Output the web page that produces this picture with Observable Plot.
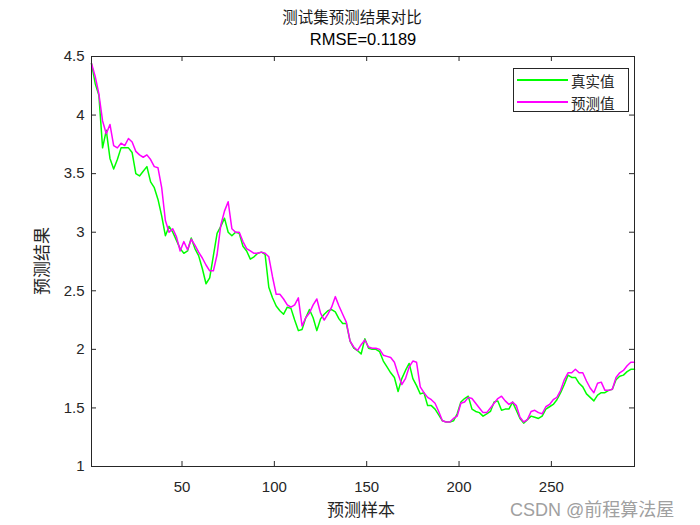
<!DOCTYPE html>
<html>
<head>
<meta charset="utf-8">
<script src="https://cdn.jsdelivr.net/npm/d3@7"></script>
<script src="https://cdn.jsdelivr.net/npm/@observablehq/plot@0.6"></script>
<style>
  html, body { margin: 0; padding: 0; background: #fff; }
  #wrap { position: relative; width: 700px; height: 525px; overflow: hidden; background: #fff; }
  .t { position: absolute; white-space: nowrap; color: #262626; }
  #title { font-family: "Noto Sans CJK SC", sans-serif; font-size: 15.5px; color: #1a1a1a; left: 352px; top: 16px; transform: translate(-50%, -50%); }
  #sub { font-family: "Liberation Sans", Arial, sans-serif; font-size: 16.5px; color: #000; left: 363px; top: 39px; transform: translate(-50%, -50%); }
  #xlab { font-family: "Noto Sans CJK SC", sans-serif; font-size: 17px; left: 361px; top: 508px; transform: translate(-50%, -50%); }
  #ylab { font-family: "Noto Sans CJK SC", sans-serif; font-size: 17px; left: 40px; top: 261px; transform: translate(-50%, -50%) rotate(-90deg); }
  #wm { font-family: "Liberation Sans", "Noto Sans CJK SC", sans-serif; font-size: 18px; color: #a0a0a0; left: 510px; top: 508px; transform: translate(0, -50%); }
  #legend { position: absolute; left: 513px; top: 68px; width: 116px; height: 44px; border: 1px solid #262626; background: #fff; box-sizing: border-box; }
  .lg { position: absolute; left: 3px; width: 51px; height: 2px; }
  .lt { position: absolute; left: 57px; font-family: "Noto Sans CJK SC", sans-serif; font-size: 14.5px; color: #262626; transform: translate(0, -50%); white-space: nowrap; }
</style>
</head>
<body>
<div id="wrap"></div>
<script>
// sample index (every second test sample)
const sampleIdx = [
  1,3,5,7,9,11,13,15,17,19,21,23,25,27,29,31,33,35,37,39,
  41,43,45,47,49,51,53,55,57,59,61,63,65,67,69,71,73,75,77,79,
  81,83,85,87,89,91,93,95,97,99,101,103,105,107,109,111,113,115,117,119,
  121,123,125,127,129,131,133,135,137,139,141,143,145,147,149,151,153,155,157,159,
  161,163,165,167,169,171,173,175,177,179,181,183,185,187,189,191,193,195,197,199,
  201,203,205,207,209,211,213,215,217,219,221,223,225,227,229,231,233,235,237,239,
  241,243,245,247,249,251,253,255,257,259,261,263,265,267,269,271,273,275,277,279,
  281,283,285,287,289,291,293,295
];
// 真实值 (true values)
const actualValues = [
  4.44,4.27,4.17,3.72,3.87,3.63,3.54,3.62,3.72,3.72,3.72,3.68,3.50,3.48,3.52,3.56,3.43,3.38,3.28,3.14,
  2.97,3.05,3.00,2.93,2.86,2.82,2.84,2.95,2.86,2.80,2.69,2.56,2.61,2.80,2.99,3.05,3.12,3.00,2.97,3.00,
  2.99,2.88,2.84,2.77,2.79,2.82,2.83,2.81,2.53,2.44,2.37,2.33,2.30,2.36,2.35,2.25,2.16,2.17,2.27,2.34,
  2.27,2.16,2.26,2.30,2.33,2.34,2.32,2.26,2.22,2.22,2.07,2.01,1.99,1.96,2.09,2.01,2.00,2.00,1.98,1.90,
  1.85,1.80,1.76,1.64,1.75,1.82,1.88,1.75,1.69,1.62,1.63,1.52,1.52,1.49,1.44,1.39,1.38,1.38,1.39,1.45,
  1.55,1.58,1.60,1.49,1.47,1.46,1.43,1.45,1.47,1.55,1.56,1.48,1.49,1.49,1.55,1.48,1.41,1.37,1.40,1.43,
  1.42,1.41,1.43,1.49,1.51,1.53,1.57,1.63,1.70,1.78,1.76,1.76,1.71,1.68,1.62,1.59,1.56,1.61,1.63,1.63,
  1.65,1.66,1.74,1.77,1.78,1.81,1.83,1.83
];
// 预测值 (predicted values)
const predictedValues = [
  4.44,4.33,4.18,3.95,3.84,3.92,3.74,3.72,3.76,3.74,3.80,3.77,3.69,3.66,3.64,3.66,3.62,3.56,3.55,3.38,
  3.10,3.00,3.03,2.96,2.84,2.92,2.85,2.94,2.89,2.83,2.78,2.72,2.67,2.67,2.81,3.06,3.18,3.26,3.03,3.00,
  3.00,2.92,2.86,2.84,2.82,2.82,2.83,2.82,2.79,2.62,2.47,2.47,2.43,2.38,2.36,2.38,2.44,2.20,2.27,2.31,
  2.38,2.43,2.31,2.25,2.30,2.36,2.45,2.37,2.30,2.23,2.07,2.02,1.99,2.04,2.08,2.02,2.01,2.01,2.00,1.95,
  1.94,1.93,1.89,1.79,1.70,1.75,1.85,1.90,1.89,1.68,1.63,1.59,1.57,1.54,1.47,1.39,1.38,1.38,1.41,1.43,
  1.54,1.55,1.59,1.58,1.54,1.50,1.46,1.46,1.50,1.54,1.58,1.60,1.56,1.53,1.55,1.52,1.42,1.38,1.40,1.47,
  1.48,1.46,1.45,1.51,1.53,1.57,1.59,1.65,1.74,1.80,1.80,1.83,1.80,1.80,1.73,1.67,1.63,1.71,1.72,1.65,
  1.65,1.66,1.76,1.80,1.82,1.86,1.89,1.89
];
const seriesNames = ["真实值", "预测值"];
const seriesColors = ["#00ff00", "#ff00ff"];
const xTicks = [50, 100, 150, 200, 250];
const yTicks = [1, 1.5, 2, 2.5, 3, 3.5, 4, 4.5];
const xDomain = [1, 295];
const yDomain = [1, 4.5];
const titleText = "测试集预测结果对比";
const rmseText = "RMSE=0.1189";
const xLabel = "预测样本";
const yLabel = "预测结果";
const watermark = "CSDN @前程算法屋";

const data = sampleIdx.map((x, i) => ({x, actual: actualValues[i], pred: predictedValues[i]}));

const W = 700, H = 525, mL = 91, mR = 66, mT = 56, mB = 59;
const uY = (yDomain[1] - yDomain[0]) / (H - mT - mB);
const uX = (xDomain[1] - xDomain[0]) / (W - mL - mR);
const tl = 5;
const axisColor = "#262626";

const chart = Plot.plot({
  width: W, height: H,
  marginLeft: mL, marginRight: mR, marginTop: mT, marginBottom: mB,
  x: {domain: xDomain},
  y: {domain: yDomain},
  style: {fontFamily: "'Liberation Sans', Arial, sans-serif", fontSize: "15px", color: axisColor, background: "white"},
  marks: [
    Plot.line(data, {x: "x", y: "actual", stroke: seriesColors[0], strokeWidth: 1.5}),
    Plot.line(data, {x: "x", y: "pred", stroke: seriesColors[1], strokeWidth: 1.5}),
    Plot.frame({stroke: axisColor, strokeWidth: 1}),
    Plot.axisX(xTicks, {tickSize: 0, tickPadding: 15, label: null, tickFormat: d => String(d), fill: axisColor}),
    Plot.axisY(yTicks, {tickSize: 0, tickPadding: 7, label: null, tickFormat: d => String(d), fill: axisColor}),
    Plot.ruleX(xTicks, {x: d => d, y1: yDomain[0], y2: yDomain[0] + tl * uY, stroke: axisColor}),
    Plot.ruleX(xTicks, {x: d => d, y1: yDomain[1], y2: yDomain[1] - tl * uY, stroke: axisColor}),
    Plot.ruleY(yTicks, {y: d => d, x1: xDomain[0], x2: xDomain[0] + tl * uX, stroke: axisColor}),
    Plot.ruleY(yTicks, {y: d => d, x1: xDomain[1], x2: xDomain[1] - tl * uX, stroke: axisColor})
  ]
});

const wrap = document.getElementById("wrap");
wrap.appendChild(chart);

function addText(id, txt) {
  const d = document.createElement("div");
  d.id = id; d.className = "t"; d.textContent = txt;
  wrap.appendChild(d);
}
addText("title", titleText);
addText("sub", rmseText);
addText("xlab", xLabel);
addText("ylab", yLabel);
addText("wm", watermark);

const lg = document.createElement("div");
lg.id = "legend";
const rowsY = [11, 33];
seriesNames.forEach((name, i) => {
  const line = document.createElement("div");
  line.className = "lg";
  line.style.top = (rowsY[i] - 1) + "px";
  line.style.background = seriesColors[i];
  lg.appendChild(line);
  const t = document.createElement("div");
  t.className = "lt";
  t.style.top = rowsY[i] + "px";
  t.textContent = name;
  lg.appendChild(t);
});
wrap.appendChild(lg);
</script>
</body>
</html>
